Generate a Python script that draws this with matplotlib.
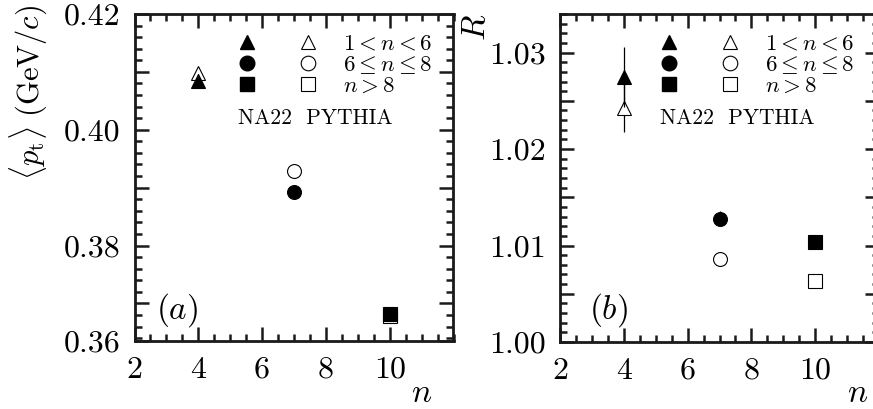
import matplotlib
matplotlib.use('Agg')
import matplotlib.pyplot as plt
from matplotlib.lines import Line2D
from matplotlib.ticker import MultipleLocator, FixedLocator, FixedFormatter
from matplotlib.legend_handler import HandlerTuple

plt.rcParams['font.family'] = 'cmr10'
plt.rcParams['mathtext.fontset'] = 'cm'
plt.rcParams['axes.formatter.use_mathtext'] = True

# ---- data ----
n_bins = [4, 7, 10]
bin_labels = [r'$1 < n < 6$', r'$6 \leq n \leq 8$', r'$n > 8$']
bin_markers = ['^', 'o', 's']

pt_na22 = [0.4085, 0.3893, 0.3681]
pt_na22_err = [0.0012, 0.0004, 0.0003]
pt_pythia = [0.4098, 0.3928, 0.3679]
pt_pythia_err = [0.0, 0.0, 0.0]

r_na22 = [1.0275, 1.0128, 1.0104]
r_na22_err = [0.0031, 0.0008, 0.0003]
r_pythia = [1.0243, 1.0086, 1.0063]
r_pythia_err = [0.0025, 0.0, 0.0]

pt_ylim = (0.3635, 0.42)
pt_yticks = [0.3635, 0.37, 0.38, 0.39, 0.40, 0.41, 0.42]
pt_yticklabels = ['0.36', '', '0.38', '', '0.40', '', '0.42']

r_ylim = (1.0, 1.034)
r_yticks = [1.0, 1.005, 1.01, 1.015, 1.02, 1.025, 1.03]
r_yticklabels = ['1.00', '', '1.01', '', '1.02', '', '1.03']

xlim = (2, 12)
xticks = [2, 4, 6, 8, 10]
xticklabels = ['2', '4', '6', '8', '10']

W, H = 873, 409
fig = plt.figure(figsize=(W / 100, H / 100), dpi=100)
ax_a = fig.add_axes([134.5 / W, 1 - 341 / H, 319 / W, 327 / H])
ax_b = fig.add_axes([560 / W, 1 - 342 / H, 319 / W, 328 / H])


def draw_panel(ax, y_na, e_na, y_py, e_py, ylim, yticks, yticklabels, ymin_step, tag, tag_xy, leg_x, txt_x):
    for x, m, yn, en, yp, ep in zip(n_bins, bin_markers, y_na, e_na, y_py, e_py):
        ax.errorbar(x, yp, yerr=ep if ep > 0 else None, fmt=m, ms=10,
                    mfc='white', mec='black', mew=0.8, ecolor='black',
                    elinewidth=0.9, capsize=0, zorder=3)
        ax.errorbar(x, yn, yerr=en, fmt=m, ms=10, color='black', mew=0.8,
                    elinewidth=0.9, capsize=0, zorder=4)

    ax.set_xlim(*xlim)
    ax.set_ylim(*ylim)
    ax.xaxis.set_major_locator(FixedLocator(xticks))
    ax.xaxis.set_major_formatter(FixedFormatter(xticklabels))
    ax.xaxis.set_minor_locator(MultipleLocator(0.5))
    ax.yaxis.set_major_locator(FixedLocator(yticks))
    ax.yaxis.set_major_formatter(FixedFormatter(yticklabels))
    ax.yaxis.set_minor_locator(MultipleLocator(ymin_step))

    ax.tick_params(which='both', direction='in', top=True, right=True,
                   labelsize=23, color='#1a1a1a')
    ax.tick_params(which='major', length=10, width=1.8)
    ax.tick_params(which='minor', length=5, width=1.8)
    ax.tick_params(axis='x', pad=11)
    ax.tick_params(axis='y', pad=10)
    for s in ax.spines.values():
        s.set_linewidth(2.0)
        s.set_color('#1a1a1a')

    # legend: filled (NA22) and open (PYTHIA) markers side by side
    handles = []
    for m in bin_markers:
        h_f = Line2D([], [], marker=m, ls='none', ms=10.5, color='black')
        h_o = Line2D([], [], marker=m, ls='none', ms=10.5, mfc='white',
                     mec='black', mew=0.8)
        handles.append((h_f, h_o))
    ax.legend(handles, bin_labels, loc='upper left',
              bbox_to_anchor=(leg_x, 0.94), frameon=False, fontsize=16.5,
              handlelength=3.56, handletextpad=1.08, labelspacing=0.0,
              borderpad=0, borderaxespad=0,
              handler_map={tuple: HandlerTuple(ndivide=None, pad=1.76)})

    ax.text(txt_x, 0.682, 'NA22  PYTHIA', transform=ax.transAxes,
            fontsize=15.5, ha='left', va='center')
    ax.text(tag_xy[0], tag_xy[1], tag, transform=ax.transAxes,
            fontsize=24, ha='center', va='center')


draw_panel(ax_a, pt_na22, pt_na22_err, pt_pythia, pt_pythia_err,
           pt_ylim, pt_yticks, pt_yticklabels, 0.002, r'$(a)$', (0.135, 0.095),
           0.321, 0.324)
draw_panel(ax_b, r_na22, r_na22_err, r_pythia, r_pythia_err,
           r_ylim, r_yticks, r_yticklabels, 0.001, r'$(b)$', (0.151, 0.098),
           0.310, 0.313)
ax_b.spines['right'].set_visible(False)

fig.text(28 / W, 1 - 5 / H, r'$\langle p_{\rm t}\rangle\ ({\rm GeV}/c)$',
         rotation=90, fontsize=22, ha='center', va='top')
fig.text(476 / W, 1 - 27 / H, r'$R$', rotation=90, fontsize=24,
         ha='center', va='center')
fig.text(422 / W, 1 - 393 / H, r'$n$', fontsize=24, ha='center', va='center')
fig.text(858 / W, 1 - 393 / H, r'$n$', fontsize=24, ha='center', va='center')

fig.savefig('out.png', dpi=100)
